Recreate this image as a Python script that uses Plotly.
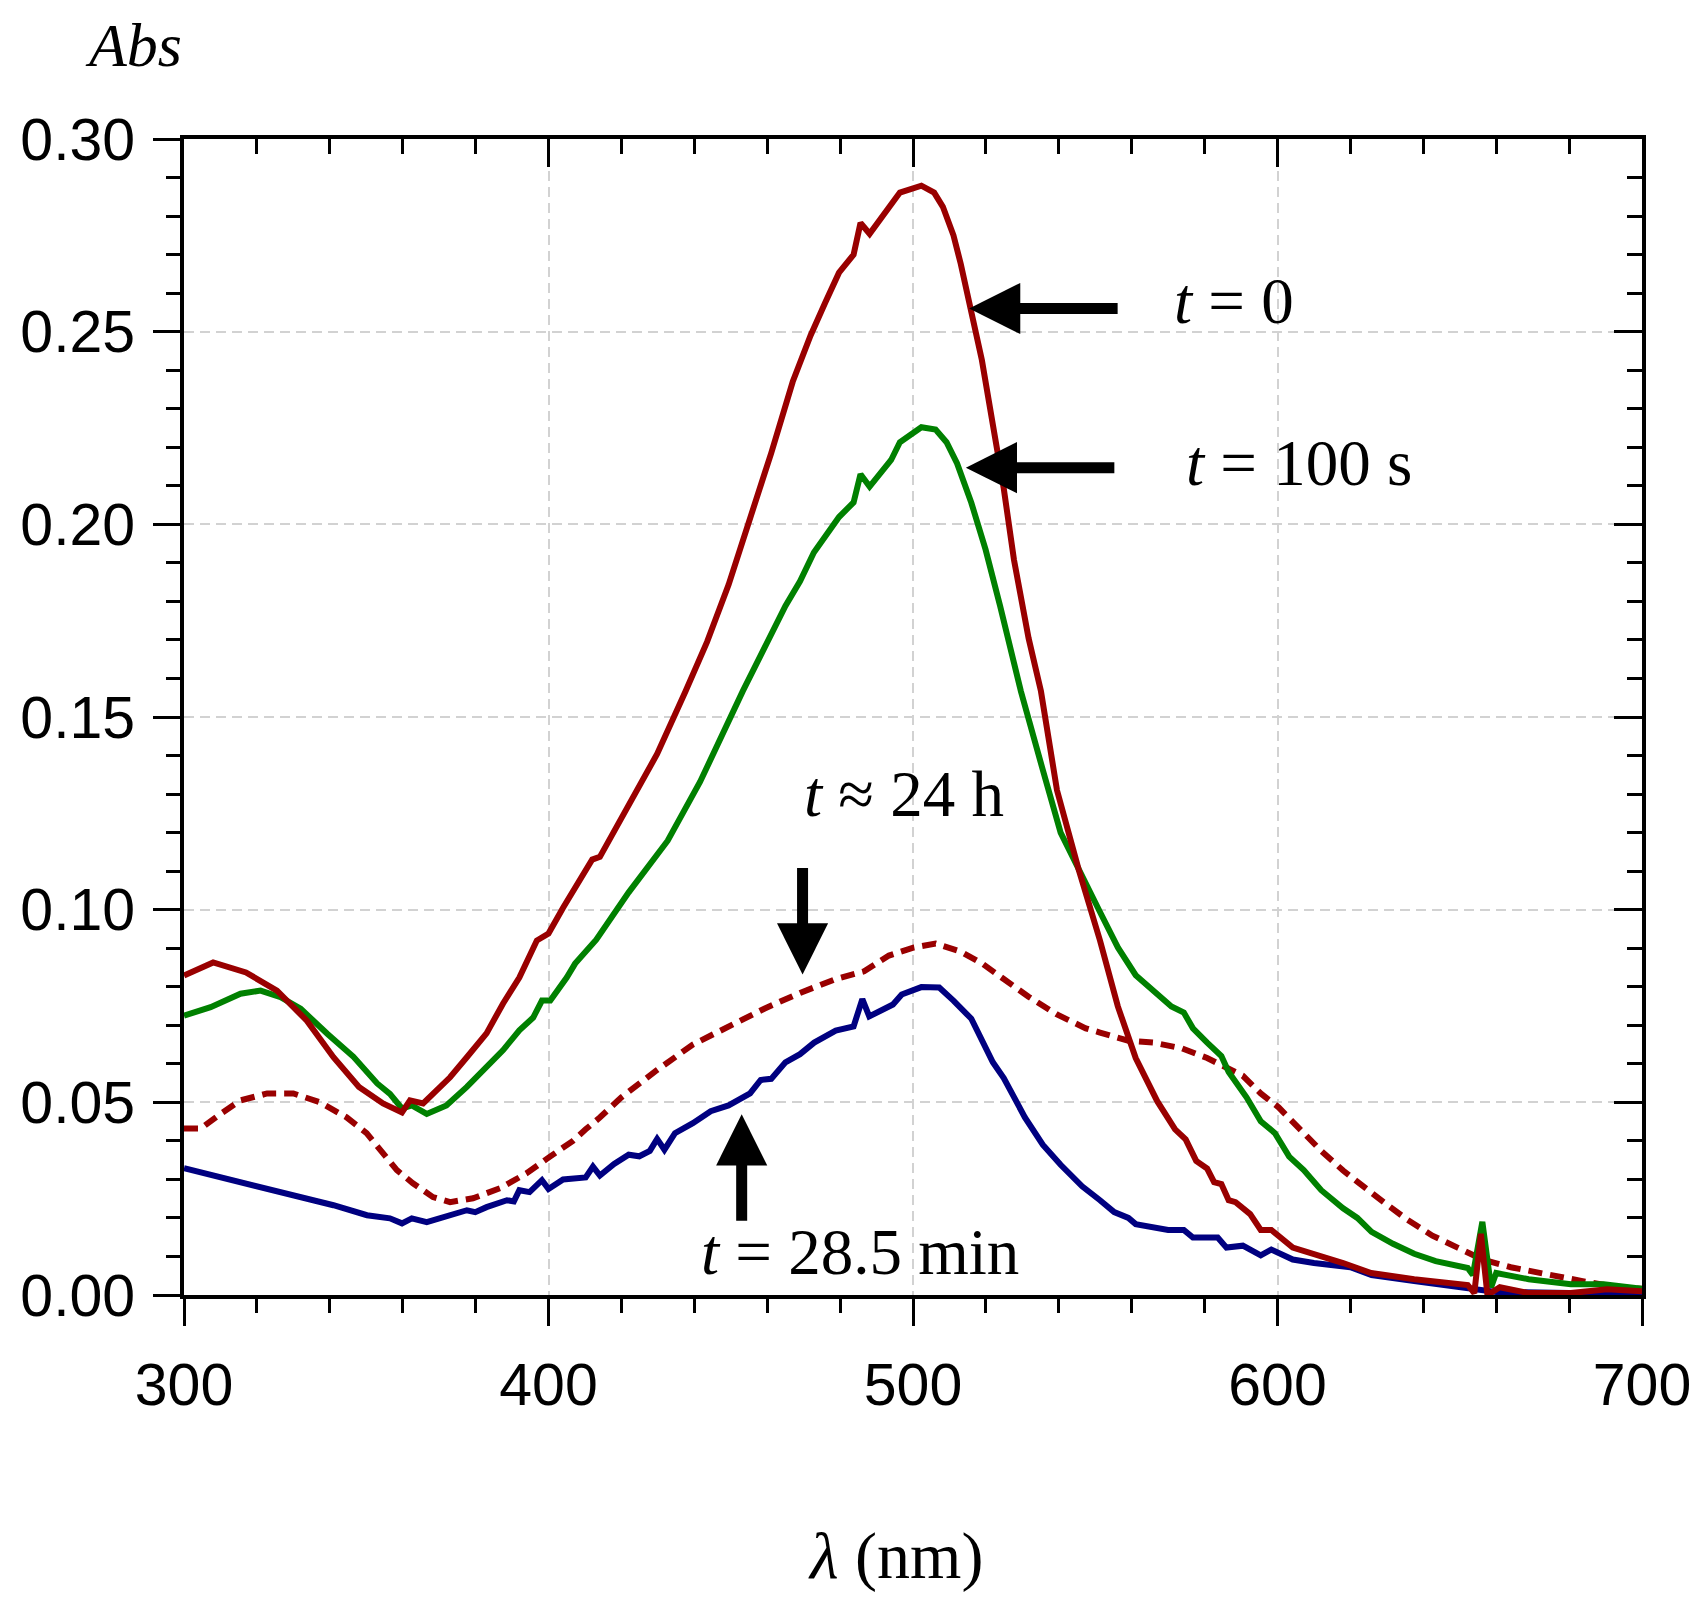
import plotly.graph_objects as go

# ---------------- data ----------------
wl_t0 = [300, 308, 317, 325.5, 333.7, 341, 348, 354.6, 359.8, 362, 365.6, 373, 377.6, 383, 387.5, 392,
         396.8, 400, 404, 407.8, 412, 414.1, 422, 429.8, 437.6, 443.5, 449.4, 455.3, 461.1, 467, 471.9,
         475.9, 479.7, 483.7, 485.6, 488.1, 493.4, 496.4, 502.3, 505.8, 508.2, 511.1, 513.1, 516, 518.9,
         521.9, 524.9, 527.7, 531.7, 535.1, 539.5, 545.4, 551.3, 556.2, 561.1, 567, 571.9, 574.8, 577.7,
         580.7, 582.6, 584.6, 586.6, 588.5, 592.5, 595.4, 598.3, 604.2, 610, 618, 625.7, 637.5, 652.2,
         654, 655.8, 657.6, 661, 668.9, 680.5, 690.4, 700]
abs_t0 = [0.0829, 0.0863, 0.0837, 0.079, 0.0712, 0.0617, 0.054, 0.0497, 0.0474, 0.0505, 0.0497, 0.0565,
          0.0617, 0.0679, 0.0756, 0.0824, 0.092, 0.0938, 0.1005, 0.1067, 0.113, 0.1137, 0.127, 0.1404,
          0.1567, 0.1695, 0.1843, 0.201, 0.2185, 0.237, 0.249, 0.2575, 0.2653, 0.270, 0.2782, 0.2754,
          0.2819, 0.2861, 0.2879, 0.2861, 0.2824, 0.275, 0.2676, 0.2555, 0.2426, 0.2259, 0.2093, 0.1908,
          0.1705, 0.1567, 0.131, 0.1106, 0.092, 0.0749, 0.0615, 0.0503, 0.043, 0.0404, 0.0348, 0.0328,
          0.0293, 0.0288, 0.0246, 0.0241, 0.021, 0.0169, 0.0169, 0.0123, 0.0107, 0.0083, 0.0057, 0.0041,
          0.0026, 0.0005, 0.0159, 0.0, 0.002, 0.0005, 0.0005, 0.0015, 0.001]

wl_100s = [300, 307.3, 315.5, 321, 326.5, 332, 339.3, 346.5, 353, 356.5, 359.8, 362.5, 366.6, 372, 377.6,
           383, 387.5, 392, 395.8, 398.2, 400.5, 405, 407.3, 413.1, 422, 432.7, 441.6, 453.3, 459.1, 465,
           469, 472.8, 479.7, 483.7, 485.6, 488.1, 494, 496.4, 502.3, 506.2, 509.2, 512.1, 516, 519.9,
           523.9, 527.7, 529.6, 535.6, 540.5, 551.3, 556.2, 561.1, 566, 570.9, 574.3, 576.8, 580.7, 584.6,
           586.6, 591.5, 595.4, 599.3, 603.2, 607.2, 612, 618, 621.9, 625.8, 631.7, 637.5, 643.4, 652.2,
           653.6, 656.2, 658.6, 660, 668.9, 680.5, 689.5, 700]
abs_100s = [0.0725, 0.0747, 0.0782, 0.079, 0.0773, 0.0743, 0.0678, 0.0618, 0.0549, 0.0522, 0.0484, 0.0492,
            0.047, 0.0492, 0.054, 0.0592, 0.0635, 0.0687, 0.072, 0.0764, 0.0764, 0.0824, 0.086, 0.0922,
            0.1045, 0.1179, 0.1332, 0.1567, 0.1676, 0.1788, 0.1852, 0.1927, 0.2019, 0.2057, 0.213, 0.2098,
            0.2167, 0.2213, 0.2252, 0.2246, 0.2213, 0.2158, 0.2056, 0.1935, 0.1788, 0.164, 0.1567, 0.1363,
            0.12, 0.0994, 0.0902, 0.083, 0.0789, 0.0749, 0.0733, 0.0692, 0.0655, 0.062, 0.0579, 0.0513,
            0.0451, 0.042, 0.0359, 0.0324, 0.0272, 0.0225, 0.02, 0.0164, 0.0133, 0.0107, 0.0088, 0.007,
            0.0052, 0.019, 0.002, 0.0057, 0.0041, 0.0028, 0.0028, 0.0016]

wl_24h = [300, 304.6, 310, 315.5, 322.8, 330, 337.3, 344.6, 350.1, 354.6, 358.4, 362.8, 368.3, 373, 379.3,
          386.7, 394, 400.4, 406.7, 410.2, 414, 420, 429.8, 439.6, 449.4, 459.2, 469, 478.8, 486.6, 493.4,
          500.3, 506.2, 513.1, 519, 524.9, 531.7, 539.5, 547.4, 551.3, 559.1, 566, 573.8, 580.7, 585.6,
          590.5, 595.4, 600.3, 606.2, 612, 618, 623.9, 629.8, 635.7, 642.5, 649.4, 656.2, 664, 673.9,
          683.7, 693.5, 700]
abs_24h = [0.0432, 0.0432, 0.047, 0.0505, 0.0523, 0.0523, 0.05, 0.0461, 0.042, 0.0368, 0.0324, 0.029,
           0.0254, 0.0241, 0.0251, 0.0277, 0.0316, 0.0359, 0.040, 0.043, 0.046, 0.0513, 0.0584, 0.065,
           0.0697, 0.0743, 0.0784, 0.082, 0.084, 0.0881, 0.0902, 0.0912, 0.0891, 0.086, 0.082, 0.0774,
           0.0728, 0.0692, 0.0681, 0.066, 0.0655, 0.064, 0.0615, 0.0594, 0.0569, 0.0523, 0.0487, 0.043,
           0.0374, 0.0323, 0.0277, 0.0236, 0.0195, 0.0154, 0.0123, 0.0092, 0.0072, 0.0052, 0.0036, 0.002,
           0.0016]

wl_28m = [300, 313.7, 327.4, 341, 350.2, 356.5, 359.8, 362.5, 366.6, 373, 377.6, 379.9, 383, 388.6, 390.5,
          392, 394.8, 398.2, 400, 404, 410.2, 412.2, 414.1, 418, 422, 424.9, 427.8, 429.8, 431.8, 434.7,
          439.6, 444.5, 449.4, 455.3, 458.2, 461.1, 465, 469, 472.9, 478.8, 483.7, 486.1, 488, 494.5,
          496.9, 502.3, 507.2, 511.1, 516, 521.9, 524.9, 530.7, 535.6, 540.5, 546.4, 551.3, 555.2, 559.1,
          561.1, 570, 574.3, 576.8, 583.6, 586, 590.5, 595.4, 598.3, 604.2, 610, 620, 625.8, 637.5, 652.2,
          660, 680, 700]
abs_28m = [0.0329, 0.0298, 0.0267, 0.0233, 0.0207, 0.0199, 0.0186, 0.0199, 0.0189, 0.0207, 0.022, 0.0215,
           0.0228, 0.0246, 0.0243, 0.0272, 0.0267, 0.0298, 0.0275, 0.03, 0.0305, 0.0333, 0.031, 0.034,
           0.0364, 0.036, 0.0374, 0.0405, 0.0377, 0.042, 0.0446, 0.0477, 0.0492, 0.0523, 0.0558, 0.0561,
           0.0604, 0.0625, 0.0655, 0.0686, 0.0697, 0.0768, 0.0723, 0.0754, 0.078, 0.0799, 0.0798, 0.0764,
           0.0717, 0.0604, 0.0563, 0.0461, 0.039, 0.0338, 0.0282, 0.0246, 0.0215, 0.02, 0.0184, 0.0169,
           0.0169, 0.0149, 0.0149, 0.0123, 0.0128, 0.0103, 0.0118, 0.0092, 0.0083, 0.0072, 0.0052, 0.0036,
           0.002, 0.0008, 0.0005, 0.0]

x_range = [300, 700]
y_range = [0, 0.30]
x_ticks = [300, 400, 500, 600, 700]
y_ticks = [0.00, 0.05, 0.10, 0.15, 0.20, 0.25, 0.30]
y_ticklabels = ["0.00", "0.05", "0.10", "0.15", "0.20", "0.25", "0.30"]

RED = "#990000"
GREEN = "#008000"
BLUE = "#000080"
SERIF = "Liberation Serif, Times New Roman, serif"
SANS = "Liberation Sans, Arial, sans-serif"
LW = 6

fig = go.Figure()
fig.add_trace(go.Scatter(x=wl_28m, y=abs_28m, mode="lines", line=dict(color=BLUE, width=LW),
                         name="t = 28.5 min", showlegend=False))
fig.add_trace(go.Scatter(x=wl_24h, y=abs_24h, mode="lines", line=dict(color=RED, width=LW, dash="14px,8px"),
                         name="t ≈ 24 h", showlegend=False))
fig.add_trace(go.Scatter(x=wl_100s, y=abs_100s, mode="lines", line=dict(color=GREEN, width=LW),
                         name="t = 100 s", showlegend=False))
fig.add_trace(go.Scatter(x=wl_t0, y=abs_t0, mode="lines", line=dict(color=RED, width=LW),
                         name="t = 0", showlegend=False))
# empty traces so that the mirrored (inside-tick) top and right axes are drawn
fig.add_trace(go.Scatter(x=[], y=[], xaxis="x2", yaxis="y", showlegend=False, hoverinfo="skip"))
fig.add_trace(go.Scatter(x=[], y=[], xaxis="x", yaxis="y2", showlegend=False, hoverinfo="skip"))

grid = dict(showgrid=True, gridcolor="#d2d2d2", gridwidth=2, griddash="10px,6px")

fig.update_layout(
    width=1695, height=1600,
    margin=dict(l=184, r=53, t=139, b=305, autoexpand=False),
    paper_bgcolor="white", plot_bgcolor="white",
    xaxis=dict(range=x_range, tickvals=x_ticks, ticktext=[str(v) for v in x_ticks],
               ticks="outside", ticklen=27, tickwidth=3, tickcolor="black",
               minor=dict(dtick=20, ticks="outside", ticklen=14, tickwidth=3, tickcolor="black", showgrid=False),
               showline=True, linewidth=4, linecolor="black", mirror=True, zeroline=False,
               tickfont=dict(family=SANS, size=59, color="black"), ticklabelstandoff=8,
               ticklabeloverflow="allow", automargin=False, **grid),
    yaxis=dict(range=y_range, tickvals=y_ticks, ticktext=y_ticklabels,
               ticks="outside", ticklen=27, tickwidth=3, tickcolor="black",
               minor=dict(dtick=0.01, ticks="outside", ticklen=14, tickwidth=3, tickcolor="black", showgrid=False),
               showline=True, linewidth=4, linecolor="black", mirror=True, zeroline=False,
               tickfont=dict(family=SANS, size=59, color="black"), ticklabelstandoff=6,
               ticklabeloverflow="allow", automargin=False, **grid),
    xaxis2=dict(range=x_range, overlaying="x", anchor="y", side="top", tickvals=x_ticks, showticklabels=False,
                ticks="inside", ticklen=28, tickwidth=3, tickcolor="black",
                minor=dict(dtick=20, ticks="inside", ticklen=15, tickwidth=3, tickcolor="black"),
                showgrid=False, zeroline=False, showline=False, automargin=False),
    yaxis2=dict(range=y_range, overlaying="y", anchor="x", side="right", tickvals=y_ticks, showticklabels=False,
                ticks="inside", ticklen=28, tickwidth=3, tickcolor="black",
                minor=dict(dtick=0.01, ticks="inside", ticklen=15, tickwidth=3, tickcolor="black"),
                showgrid=False, zeroline=False, showline=False, automargin=False),
)

# text labels
labels = [
    ("<i>t</i> = 0", 588, 0.258),
    ("<i>t</i> = 100 s", 606, 0.216),
    ("<i>t</i> ≈ 24 h", 497.5, 0.130),
    ("<i>t</i> = 28.5 min", 485.5, 0.0112),
]
for txt, lx, ly in labels:
    fig.add_annotation(x=lx, y=ly, xref="x", yref="y", text=txt, showarrow=False,
                       font=dict(family=SERIF, size=65, color="black"), xanchor="center", yanchor="middle")

# arrows (tip position, pixel offset of the tail)
arrows = [
    (515.4, 0.256, 150, 0),
    (514.5, 0.2147, 150, 0),
    (469.7, 0.0832, 0, -108),
    (453.0, 0.0469, 0, 108),
]
for ax_x, ax_y, dx, dy in arrows:
    fig.add_annotation(x=ax_x, y=ax_y, xref="x", yref="y", text="", showarrow=True,
                       ax=dx, ay=dy, arrowhead=2, arrowsize=0.93, arrowwidth=11, arrowcolor="black")

# axis titles
fig.add_annotation(x=0.488, y=-0.226, xref="paper", yref="paper", text="<i>λ</i> (nm)", showarrow=False,
                   font=dict(family=SERIF, size=66, color="black"), xanchor="center", yanchor="middle")
fig.add_annotation(x=0.0, y=1.081, xref="paper", yref="paper", text="<i>Abs</i>", showarrow=False,
                   font=dict(family=SERIF, size=62, color="black"), xanchor="right", yanchor="middle")

fig.write_html("out.html", config={"displayModeBar": False},
               post_script="document.body.style.margin='0';")
